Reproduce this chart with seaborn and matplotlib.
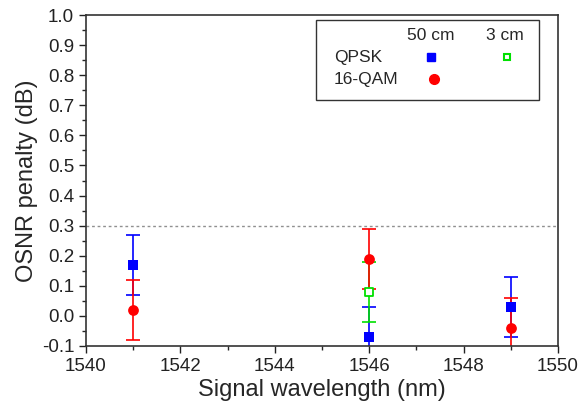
import numpy as np
import pandas as pd
import matplotlib
matplotlib.use("Agg")
import matplotlib.pyplot as plt
import seaborn as sns
from matplotlib.ticker import MultipleLocator
from matplotlib.patches import Rectangle

# data
wavelength_50cm = [1541, 1546, 1549]
qpsk_50cm = [0.17, -0.07, 0.03]
qam16_50cm = [0.02, 0.19, -0.04]
err_50cm = [0.10, 0.10, 0.10]

wavelength_3cm = [1546]
qpsk_3cm = [0.08]
err_3cm = [0.10]

threshold = 0.3

sns.set_style("ticks")
plt.rcParams['font.family'] = ['Liberation Sans', 'DejaVu Sans']

fig = plt.figure(figsize=(5.8, 4.16), dpi=100)
ax = fig.add_axes([86 / 580, 1 - 346 / 416, 472 / 580, 331 / 416])

df = pd.DataFrame({
    "wl": wavelength_50cm * 2 + wavelength_3cm,
    "penalty": qpsk_50cm + qam16_50cm + qpsk_3cm,
    "err": err_50cm * 2 + err_3cm,
    "series": ["QPSK 50 cm"] * 3 + ["16-QAM 50 cm"] * 3 + ["QPSK 3 cm"],
})

styles = {
    "QPSK 50 cm": dict(color="#0000ff", marker="s", fill=True, s=50),
    "QPSK 3 cm": dict(color="#00e000", marker="s", fill=False, s=28),
    "16-QAM 50 cm": dict(color="#ff0000", marker="o", fill=True, s=60),
}

ax.axhline(threshold, color="#909090", linestyle=(0, (2, 2)), linewidth=1, zorder=1)

for name, st in styles.items():
    sub = df[df["series"] == name]
    ax.errorbar(sub["wl"], sub["penalty"], yerr=sub["err"], fmt="none",
                ecolor=st["color"], elinewidth=1.2, capsize=5, capthick=1.2, zorder=2)
    sns.scatterplot(data=sub, x="wl", y="penalty", ax=ax, marker=st["marker"], s=st["s"],
                    color=st["color"] if st["fill"] else "white",
                    edgecolor=st["color"], linewidth=1.3 if not st["fill"] else 0,
                    legend=False, zorder=3)

ax.set_xlim(1540, 1550)
ax.set_ylim(-0.1, 1.0)
ax.xaxis.set_major_locator(MultipleLocator(2))
ax.xaxis.set_minor_locator(MultipleLocator(1))
ax.yaxis.set_major_locator(MultipleLocator(0.1))
ax.yaxis.set_minor_locator(MultipleLocator(0.05))
ax.yaxis.set_major_formatter(matplotlib.ticker.FormatStrFormatter("%.1f"))
ax.tick_params(which="major", direction="out", length=5, width=1, labelsize=13.5, colors="#222222")
ax.tick_params(which="minor", direction="out", length=3, width=1)
for sp in ax.spines.values():
    sp.set_visible(True)
    sp.set_color("#333333")
    sp.set_linewidth(1.2)

ax.set_xlabel("Signal wavelength (nm)", fontsize=17, labelpad=3)
ax.set_ylabel("OSNR penalty (dB)", fontsize=17, labelpad=3)

# custom table-style legend
ax.add_patch(Rectangle((0.487, 0.744), 0.473, 0.241, transform=ax.transAxes,
                       facecolor="white", edgecolor="#333333", linewidth=1, zorder=4))
tk = dict(transform=ax.transAxes, fontsize=12.5, zorder=5, va="center")
ax.text(0.731, 0.938, "50 cm", ha="center", **tk)
ax.text(0.887, 0.938, "3 cm", ha="center", **tk)
ax.text(0.525, 0.873, "QPSK", ha="left", **tk)
ax.text(0.525, 0.806, "16-QAM", ha="left", **tk)
ax.plot([0.731], [0.873], "s", color="#0000ff", ms=6, transform=ax.transAxes, zorder=5)
ax.plot([0.891], [0.873], "s", mfc="white", mec="#00e000", mew=1.5, ms=5, transform=ax.transAxes, zorder=5)
ax.plot([0.737], [0.806], "o", color="#ff0000", ms=7, transform=ax.transAxes, zorder=5)

fig.savefig("out.png", dpi=100)
